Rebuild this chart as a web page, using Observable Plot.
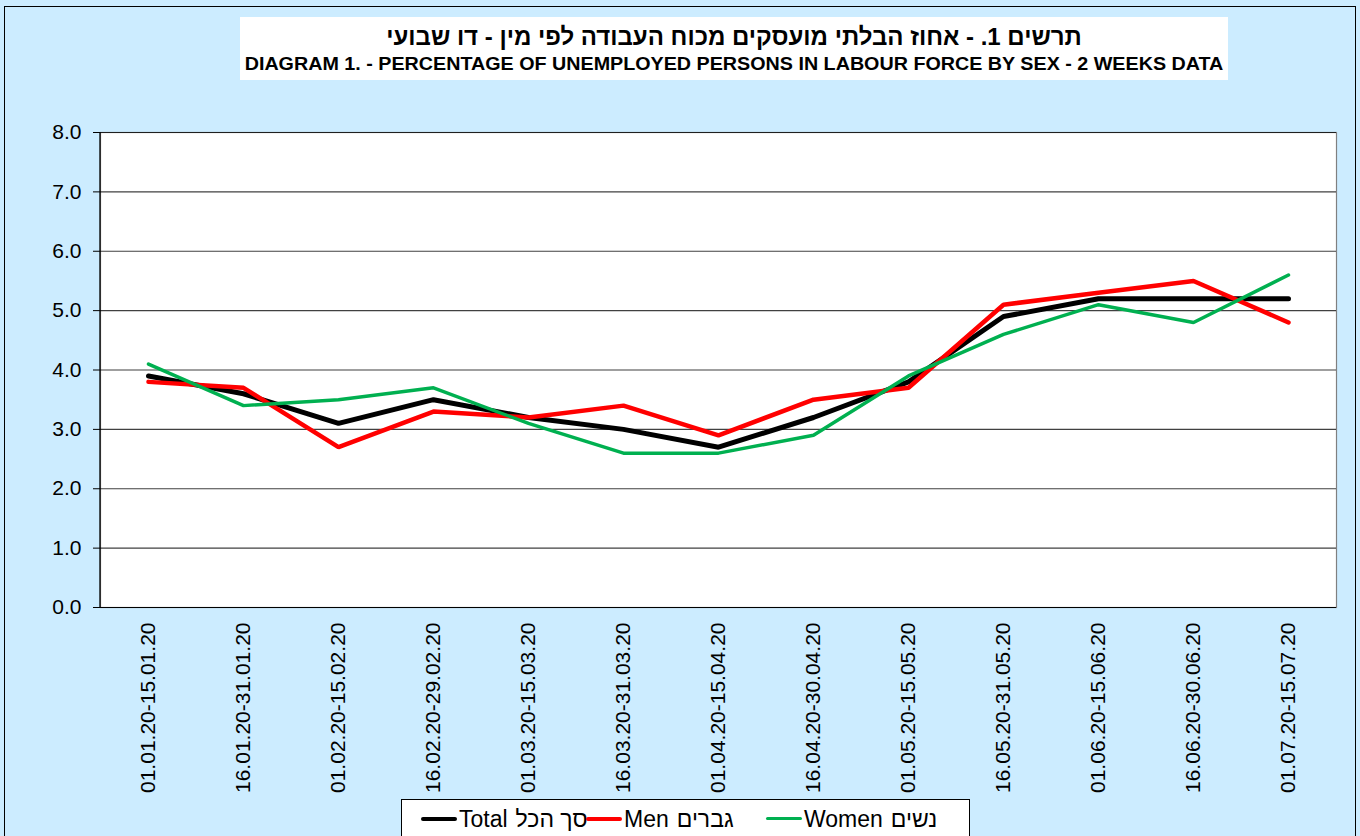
<!DOCTYPE html>
<html><head><meta charset="utf-8">
<script src="https://cdn.jsdelivr.net/npm/d3@7"></script>
<script src="https://cdn.jsdelivr.net/npm/@observablehq/plot@0.6"></script>
<style>
html,body{margin:0;padding:0;background:#CCECFF;}
#wrap{position:relative;width:1360px;height:836px;overflow:hidden;background:#CCECFF;font-family:"Liberation Sans",Arial,sans-serif;}
#border{position:absolute;left:4px;top:6px;width:1352px;height:840px;border:1.5px solid #000;box-sizing:border-box;pointer-events:none;}
#titlebox{position:absolute;left:240px;top:17px;width:988px;height:63px;background:#fff;text-align:center;}
#t1{position:absolute;left:0;right:0;top:6px;font-family:"Liberation Sans",sans-serif;font-weight:bold;font-size:24px;direction:rtl;line-height:28px;}
#t2{position:absolute;left:0;right:0;top:37px;font-family:"Liberation Sans",sans-serif;font-weight:bold;font-size:18px;line-height:20px;transform:scaleX(1.095);transform-origin:50% 50%;}
#legend{position:absolute;left:401px;top:799px;width:569px;height:50px;background:#fff;border:1.5px solid #000;box-sizing:border-box;}
.li{position:absolute;top:7px;font-size:23px;line-height:24px;white-space:nowrap;direction:ltr;}
.he{margin-left:8px;font-size:23px;}
.sw{display:inline-block;width:36px;height:4px;vertical-align:middle;margin-right:2px;position:relative;top:-2px;border-radius:2px;}
#chart{position:absolute;left:0;top:0;}
</style></head>
<body><div id="wrap">
<div id="chart"></div>
<div id="titlebox"><div id="t1">תרשים 1. - אחוז הבלתי מועסקים מכוח העבודה לפי מין - דו שבועי</div>
<div id="t2">DIAGRAM 1. - PERCENTAGE OF UNEMPLOYED PERSONS IN LABOUR FORCE BY SEX - 2 WEEKS DATA</div></div>
<div id="legend"></div>
<div id="border"></div>
</div>
<script>
const periods = ["01.01.20-15.01.20","16.01.20-31.01.20","01.02.20-15.02.20","16.02.20-29.02.20","01.03.20-15.03.20","16.03.20-31.03.20","01.04.20-15.04.20","16.04.20-30.04.20","01.05.20-15.05.20","16.05.20-31.05.20","01.06.20-15.06.20","16.06.20-30.06.20","01.07.20-15.07.20"];
const total = [3.9,3.6,3.1,3.5,3.2,3.0,2.7,3.2,3.8,4.9,5.2,5.2,5.2];
const men   = [3.8,3.7,2.7,3.3,3.2,3.4,2.9,3.5,3.7,5.1,5.3,5.5,4.8];
const women = [4.1,3.4,3.5,3.7,3.1,2.6,2.6,2.9,3.9,4.6,5.1,4.8,5.6];
const seriesEn = ["Total","Men","Women"];
const seriesHe = ["סך הכל","גברים","נשים"];
const yTicks = [0,1,2,3,4,5,6,7,8];

const seriesNames = seriesEn.map((e,i)=>e+" "+seriesHe[i]);
const colors = ["#000000","#FF0000","#00B050"];
const widths = [5,4.5,3.5];
const allSeries = [total, men, women];
const rows = allSeries.flatMap((vals,si)=>vals.map((v,i)=>({period:periods[i],value:v,series:seriesNames[si]})));

const chart = Plot.plot({
  width:1360, height:836,
  marginLeft:100, marginRight:24, marginTop:132, marginBottom:229,
  style:{background:"transparent",fontFamily:"'Liberation Sans',Arial,sans-serif",color:"#000",fontSize:"21px"},
  x:{type:"point", domain:periods, padding:0.5, label:null},
  y:{domain:[0,8], label:null},
  marks:[
    Plot.frame({fill:"#fff", stroke:"#808080", strokeWidth:1.2}),
    Plot.gridY(yTicks.slice(1), {stroke:"#000", strokeOpacity:0.75, strokeWidth:1.2}),
    Plot.axisY(yTicks, {tickSize:7, tickFormat:d=>d.toFixed(1), fontSize:21, tickPadding:12, stroke:"#000", label:null}),
    Plot.axisX(periods, {tickSize:0, tickRotate:-90, fontSize:21, tickPadding:15, textAnchor:"end", label:null}),
    Plot.ruleY([0], {stroke:"#000", strokeWidth:1.2}),
    ...seriesNames.map((s,si)=>Plot.line(rows.filter(r=>r.series===s), {x:"period", y:"value", stroke:colors[si], strokeWidth:widths[si], strokeLinejoin:"miter", strokeLinecap:"round"}))
  ]
});
document.getElementById("chart").appendChild(chart);
const svg = d3.select(chart);
svg.selectAll('g[aria-label="y-axis tick label"], g[aria-label="x-axis tick label"]').attr("font-size",21).selectAll("text").attr("font-size",21);
// left axis line
svg.append("line").attr("x1",100).attr("x2",100).attr("y1",132).attr("y2",607).attr("stroke","#000").attr("stroke-width",1.3);

const lg = document.getElementById("legend");
const lefts = [19,184,364];
seriesEn.forEach((s,i)=>{
  const d = document.createElement("div");
  d.className="li"; d.style.left=lefts[i]+"px";
  d.innerHTML = `<span class="sw" style="background:${colors[i]};height:${widths[i]-0.5}px"></span>${s}<span class="he">${seriesHe[i]}</span>`;
  lg.appendChild(d);
});
</script>
</body></html>
